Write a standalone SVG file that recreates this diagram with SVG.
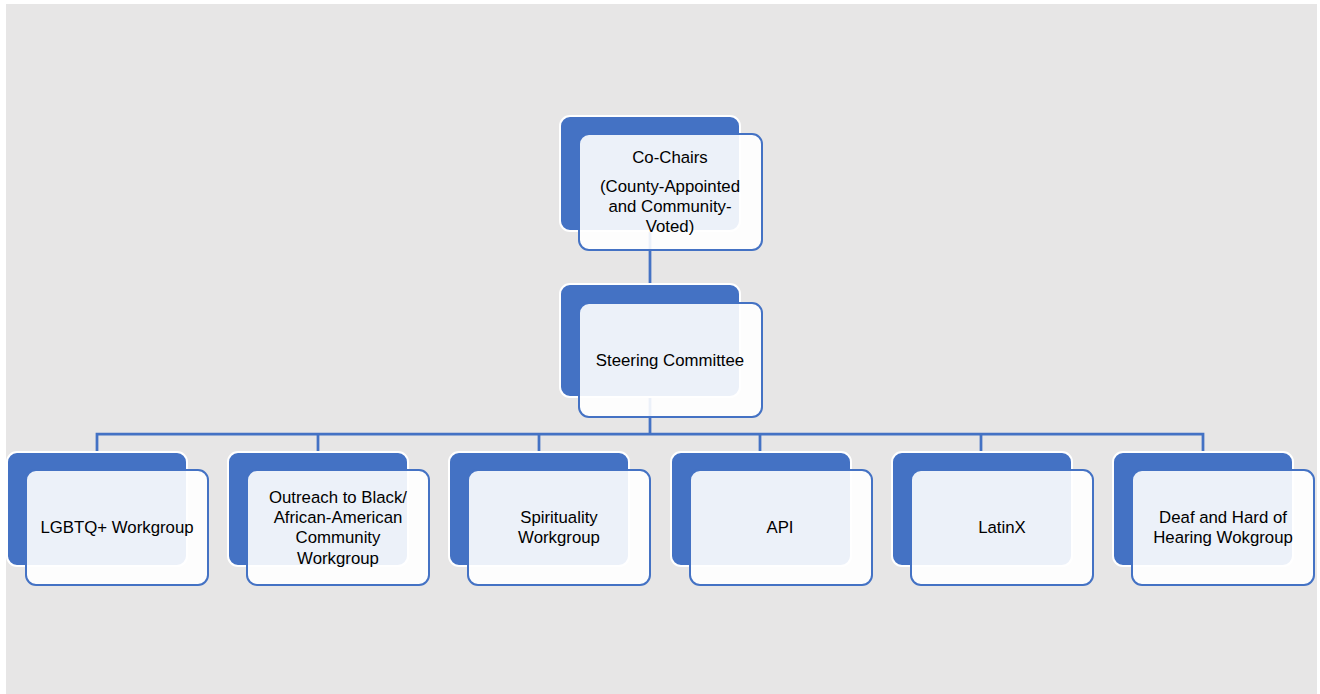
<svg xmlns="http://www.w3.org/2000/svg" width="1320" height="694" viewBox="0 0 1320 694">
<style>
.back{fill:#4472C4;stroke:#FFFFFF;stroke-width:2}
.front{fill:#FFFFFF;fill-opacity:0.9;stroke:#4472C4;stroke-width:2}
.conn{fill:none;stroke:#4472C4;stroke-width:2.75}
text{font-family:"Liberation Sans",Arial,sans-serif;font-size:16.8px;fill:#000000;text-anchor:middle}
</style>
<rect x="0" y="0" width="1320" height="694" fill="#FFFFFF"/>
<rect x="6" y="4" width="1311" height="690" fill="#E7E6E6"/>
<g id="connectors">
<path class="conn" d="M650 231 V284"/>
<path class="conn" d="M650 397 V434"/>
<path class="conn" d="M97 452 V434 H1203 V452"/>
<path class="conn" d="M318 434 V452"/>
<path class="conn" d="M539 434 V452"/>
<path class="conn" d="M760 434 V452"/>
<path class="conn" d="M981 434 V452"/>
</g>
<g id="co-chairs">
<rect class="back" x="560" y="116" width="180" height="115" rx="10"/>
<rect class="front" x="579" y="134" width="183" height="116" rx="10"/>
<text x="670" y="163">Co-Chairs</text>
<text x="670" y="192">(County-Appointed</text>
<text x="670" y="212">and Community-</text>
<text x="670" y="232">Voted)</text>
</g>
<g id="steering">
<rect class="back" x="560" y="284" width="180" height="113" rx="10"/>
<rect class="front" x="579" y="303" width="183" height="114" rx="10"/>
<text x="670" y="366">Steering Committee</text>
</g>
<g id="lgbtq">
<rect class="back" x="7" y="452" width="180" height="114" rx="10"/>
<rect class="front" x="26" y="470" width="182" height="115" rx="10"/>
<text x="117" y="533">LGBTQ+ Workgroup</text>
</g>
<g id="outreach">
<rect class="back" x="228" y="452" width="180" height="114" rx="10"/>
<rect class="front" x="247" y="470" width="182" height="115" rx="10"/>
<text x="338" y="503">Outreach to Black/</text>
<text x="338" y="523">African-American</text>
<text x="338" y="543">Community</text>
<text x="338" y="564">Workgroup</text>
</g>
<g id="spirituality">
<rect class="back" x="449" y="452" width="180" height="114" rx="10"/>
<rect class="front" x="468" y="470" width="182" height="115" rx="10"/>
<text x="559" y="523">Spirituality</text>
<text x="559" y="543">Workgroup</text>
</g>
<g id="api">
<rect class="back" x="671" y="452" width="180" height="114" rx="10"/>
<rect class="front" x="690" y="470" width="182" height="115" rx="10"/>
<text x="780" y="533">API</text>
</g>
<g id="latinx">
<rect class="back" x="892" y="452" width="180" height="114" rx="10"/>
<rect class="front" x="911" y="470" width="182" height="115" rx="10"/>
<text x="1002" y="533">LatinX</text>
</g>
<g id="deaf">
<rect class="back" x="1113" y="452" width="180" height="114" rx="10"/>
<rect class="front" x="1132" y="470" width="182" height="115" rx="10"/>
<text x="1223" y="523">Deaf and Hard of</text>
<text x="1223" y="543">Hearing Wokgroup</text>
</g>
</svg>
